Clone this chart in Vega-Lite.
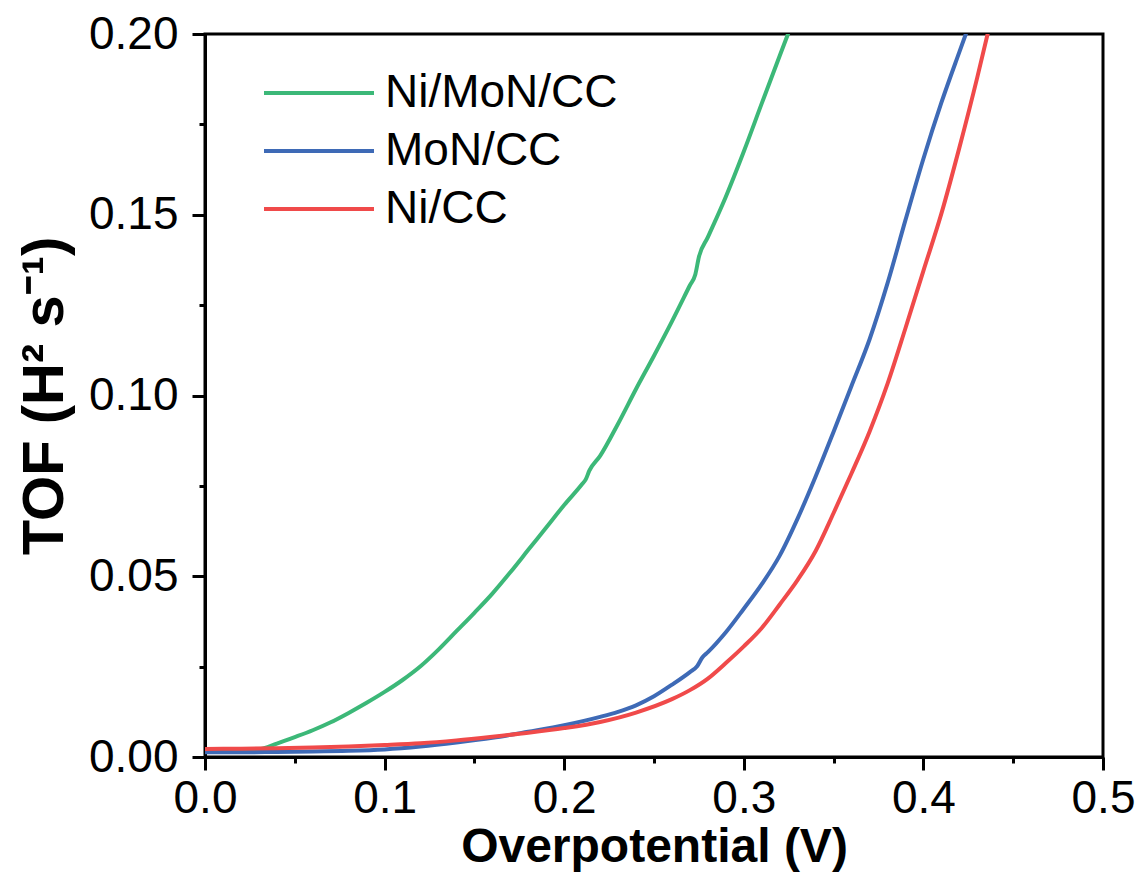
{
  "$schema": "https://vega.github.io/schema/vega-lite/v6.json",
  "width": 898,
  "height": 723,
  "autosize": "none",
  "padding": {"left": 205, "top": 34, "right": 37, "bottom": 124},
  "background": "white",
  "config": {
    "view": {"stroke": "black", "strokeWidth": 3},
    "font": "Liberation Sans",
    "axis": {
      "grid": false,
      "domainColor": "black",
      "domainWidth": 3,
      "tickColor": "black",
      "tickWidth": 3,
      "labelFont": "Liberation Sans",
      "labelFontSize": 46,
      "labelColor": "black",
      "titleFont": "Liberation Sans",
      "titleFontSize": 48,
      "titleFontWeight": "bold",
      "titleColor": "black"
    },
    "legend": {
      "labelFont": "Liberation Sans",
      "labelFontSize": 46,
      "labelColor": "black",
      "labelLimit": 0
    }
  },
  "data": {
    "values": [
      {"s": "Ni/MoN/CC", "x": 0, "y": 0.0018},
      {"s": "Ni/MoN/CC", "x": 0.01, "y": 0.0018},
      {"s": "Ni/MoN/CC", "x": 0.02, "y": 0.0018},
      {"s": "Ni/MoN/CC", "x": 0.03, "y": 0.0021},
      {"s": "Ni/MoN/CC", "x": 0.04, "y": 0.0037},
      {"s": "Ni/MoN/CC", "x": 0.05, "y": 0.0055},
      {"s": "Ni/MoN/CC", "x": 0.06, "y": 0.0074},
      {"s": "Ni/MoN/CC", "x": 0.07, "y": 0.0096},
      {"s": "Ni/MoN/CC", "x": 0.08, "y": 0.0122},
      {"s": "Ni/MoN/CC", "x": 0.09, "y": 0.0150},
      {"s": "Ni/MoN/CC", "x": 0.10, "y": 0.0180},
      {"s": "Ni/MoN/CC", "x": 0.11, "y": 0.0213},
      {"s": "Ni/MoN/CC", "x": 0.12, "y": 0.0251},
      {"s": "Ni/MoN/CC", "x": 0.13, "y": 0.0297},
      {"s": "Ni/MoN/CC", "x": 0.14, "y": 0.0348},
      {"s": "Ni/MoN/CC", "x": 0.15, "y": 0.0399},
      {"s": "Ni/MoN/CC", "x": 0.16, "y": 0.0452},
      {"s": "Ni/MoN/CC", "x": 0.17, "y": 0.0511},
      {"s": "Ni/MoN/CC", "x": 0.18, "y": 0.0573},
      {"s": "Ni/MoN/CC", "x": 0.19, "y": 0.0635},
      {"s": "Ni/MoN/CC", "x": 0.20, "y": 0.0697},
      {"s": "Ni/MoN/CC", "x": 0.21, "y": 0.0755},
      {"s": "Ni/MoN/CC", "x": 0.212, "y": 0.0768},
      {"s": "Ni/MoN/CC", "x": 0.214, "y": 0.0792},
      {"s": "Ni/MoN/CC", "x": 0.22, "y": 0.0833},
      {"s": "Ni/MoN/CC", "x": 0.23, "y": 0.0922},
      {"s": "Ni/MoN/CC", "x": 0.24, "y": 0.1018},
      {"s": "Ni/MoN/CC", "x": 0.25, "y": 0.1110},
      {"s": "Ni/MoN/CC", "x": 0.26, "y": 0.1205},
      {"s": "Ni/MoN/CC", "x": 0.27, "y": 0.1305},
      {"s": "Ni/MoN/CC", "x": 0.273, "y": 0.1335},
      {"s": "Ni/MoN/CC", "x": 0.275, "y": 0.1383},
      {"s": "Ni/MoN/CC", "x": 0.28, "y": 0.1438},
      {"s": "Ni/MoN/CC", "x": 0.29, "y": 0.1550},
      {"s": "Ni/MoN/CC", "x": 0.30, "y": 0.1675},
      {"s": "Ni/MoN/CC", "x": 0.31, "y": 0.1808},
      {"s": "Ni/MoN/CC", "x": 0.32, "y": 0.1940},
      {"s": "Ni/MoN/CC", "x": 0.325, "y": 0.2005},
      {"s": "MoN/CC", "x": 0, "y": 0.0013},
      {"s": "MoN/CC", "x": 0.02, "y": 0.0013},
      {"s": "MoN/CC", "x": 0.04, "y": 0.0014},
      {"s": "MoN/CC", "x": 0.06, "y": 0.0015},
      {"s": "MoN/CC", "x": 0.08, "y": 0.0017},
      {"s": "MoN/CC", "x": 0.10, "y": 0.0021},
      {"s": "MoN/CC", "x": 0.12, "y": 0.0029},
      {"s": "MoN/CC", "x": 0.14, "y": 0.0040},
      {"s": "MoN/CC", "x": 0.16, "y": 0.0053},
      {"s": "MoN/CC", "x": 0.18, "y": 0.0070},
      {"s": "MoN/CC", "x": 0.20, "y": 0.0088},
      {"s": "MoN/CC", "x": 0.22, "y": 0.0111},
      {"s": "MoN/CC", "x": 0.23, "y": 0.0125},
      {"s": "MoN/CC", "x": 0.24, "y": 0.0143},
      {"s": "MoN/CC", "x": 0.25, "y": 0.0168},
      {"s": "MoN/CC", "x": 0.26, "y": 0.0200},
      {"s": "MoN/CC", "x": 0.27, "y": 0.0235},
      {"s": "MoN/CC", "x": 0.274, "y": 0.0251},
      {"s": "MoN/CC", "x": 0.277, "y": 0.0276},
      {"s": "MoN/CC", "x": 0.28, "y": 0.0290},
      {"s": "MoN/CC", "x": 0.29, "y": 0.0345},
      {"s": "MoN/CC", "x": 0.30, "y": 0.0410},
      {"s": "MoN/CC", "x": 0.31, "y": 0.0478},
      {"s": "MoN/CC", "x": 0.32, "y": 0.0557},
      {"s": "MoN/CC", "x": 0.33, "y": 0.0660},
      {"s": "MoN/CC", "x": 0.34, "y": 0.0776},
      {"s": "MoN/CC", "x": 0.35, "y": 0.0900},
      {"s": "MoN/CC", "x": 0.36, "y": 0.1027},
      {"s": "MoN/CC", "x": 0.37, "y": 0.1155},
      {"s": "MoN/CC", "x": 0.38, "y": 0.1310},
      {"s": "MoN/CC", "x": 0.39, "y": 0.1485},
      {"s": "MoN/CC", "x": 0.40, "y": 0.1655},
      {"s": "MoN/CC", "x": 0.41, "y": 0.1810},
      {"s": "MoN/CC", "x": 0.42, "y": 0.1950},
      {"s": "MoN/CC", "x": 0.424, "y": 0.2005},
      {"s": "Ni/CC", "x": 0, "y": 0.0022},
      {"s": "Ni/CC", "x": 0.02, "y": 0.0023},
      {"s": "Ni/CC", "x": 0.04, "y": 0.0024},
      {"s": "Ni/CC", "x": 0.06, "y": 0.0026},
      {"s": "Ni/CC", "x": 0.08, "y": 0.0029},
      {"s": "Ni/CC", "x": 0.10, "y": 0.0033},
      {"s": "Ni/CC", "x": 0.12, "y": 0.0038},
      {"s": "Ni/CC", "x": 0.14, "y": 0.0046},
      {"s": "Ni/CC", "x": 0.16, "y": 0.0056},
      {"s": "Ni/CC", "x": 0.18, "y": 0.0067},
      {"s": "Ni/CC", "x": 0.20, "y": 0.0080},
      {"s": "Ni/CC", "x": 0.22, "y": 0.0097},
      {"s": "Ni/CC", "x": 0.24, "y": 0.0123},
      {"s": "Ni/CC", "x": 0.26, "y": 0.0160},
      {"s": "Ni/CC", "x": 0.27, "y": 0.0185},
      {"s": "Ni/CC", "x": 0.28, "y": 0.0217},
      {"s": "Ni/CC", "x": 0.29, "y": 0.0260},
      {"s": "Ni/CC", "x": 0.30, "y": 0.0306},
      {"s": "Ni/CC", "x": 0.31, "y": 0.0357},
      {"s": "Ni/CC", "x": 0.32, "y": 0.0422},
      {"s": "Ni/CC", "x": 0.33, "y": 0.0490},
      {"s": "Ni/CC", "x": 0.34, "y": 0.0570},
      {"s": "Ni/CC", "x": 0.35, "y": 0.0675},
      {"s": "Ni/CC", "x": 0.36, "y": 0.0785},
      {"s": "Ni/CC", "x": 0.37, "y": 0.0900},
      {"s": "Ni/CC", "x": 0.38, "y": 0.1032},
      {"s": "Ni/CC", "x": 0.39, "y": 0.1186},
      {"s": "Ni/CC", "x": 0.40, "y": 0.1345},
      {"s": "Ni/CC", "x": 0.41, "y": 0.1503},
      {"s": "Ni/CC", "x": 0.42, "y": 0.1685},
      {"s": "Ni/CC", "x": 0.43, "y": 0.1880},
      {"s": "Ni/CC", "x": 0.436, "y": 0.2005}
    ]
  },
  "mark": {"type": "line", "strokeWidth": 4, "clip": true, "strokeCap": "round", "strokeJoin": "round", "interpolate": "monotone"},
  "encoding": {
    "x": {
      "field": "x",
      "type": "quantitative",
      "scale": {"domain": [0, 0.5], "nice": false, "zero": false},
      "axis": {
        "title": "Overpotential (V)",
        "values": [0, 0.05, 0.1, 0.15, 0.2, 0.25, 0.3, 0.35, 0.4, 0.45, 0.5],
        "labelExpr": "abs(round(datum.value*10) - datum.value*10) < 0.01 ? format(datum.value, '.1f') : ''",
        "tickSize": {"condition": {"test": "abs(round(datum.value*10) - datum.value*10) < 0.01", "value": 13}, "value": 6},
        "labelPadding": 6,
        "titlePadding": 2,
        "labelFlush": false,
        "labelOverlap": false
      }
    },
    "y": {
      "field": "y",
      "type": "quantitative",
      "scale": {"domain": [0, 0.2], "nice": false, "zero": false},
      "axis": {
        "title": "TOF (H² s⁻¹)",
        "titleFontSize": 58,
        "values": [0, 0.025, 0.05, 0.075, 0.1, 0.125, 0.15, 0.175, 0.2],
        "labelExpr": "abs(round(datum.value*20) - datum.value*20) < 0.01 ? format(datum.value, '.2f') : ''",
        "tickSize": {"condition": {"test": "abs(round(datum.value*20) - datum.value*20) < 0.01", "value": 13}, "value": 6},
        "labelPadding": 14,
        "titlePadding": 14,
        "labelFlush": false,
        "labelOverlap": false
      }
    },
    "color": {
      "field": "s",
      "type": "nominal",
      "scale": {"domain": ["Ni/MoN/CC", "MoN/CC", "Ni/CC"], "range": ["#3cb878", "#3e6ab6", "#f04a4a"]},
      "legend": {
        "title": null,
        "orient": "none",
        "legendX": 57,
        "legendY": 30,
        "padding": 0,
        "symbolType": "stroke",
        "symbolSize": 12100,
        "symbolStrokeWidth": 4,
        "clipHeight": 58,
        "rowPadding": 0,
        "labelOffset": 9,
        "labelLimit": 0
      }
    }
  }
}
